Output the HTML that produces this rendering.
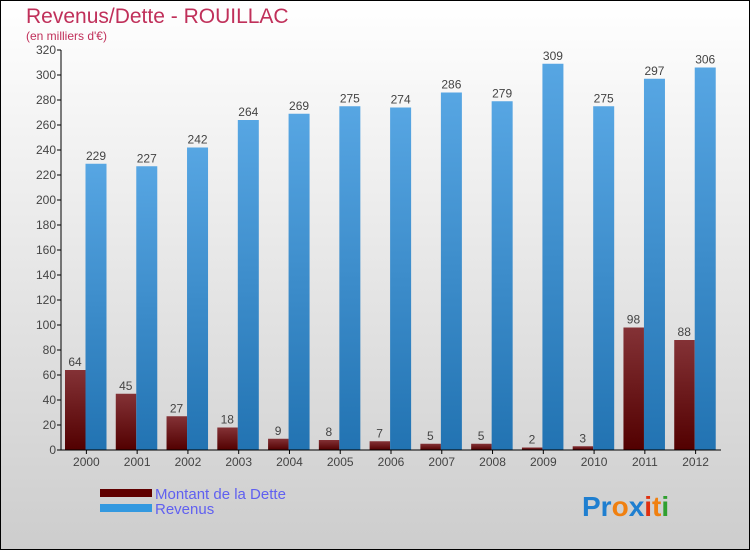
<!DOCTYPE html>
<html><head><meta charset="utf-8"><style>
body{margin:0}
#c{width:750px;height:550px;position:relative;overflow:hidden}
</style></head><body>
<div id="c">
<svg id="s" width="750" height="550" xmlns="http://www.w3.org/2000/svg" font-family="'Liberation Sans', sans-serif">
<defs>
<linearGradient id="bg" x1="0" y1="0" x2="0" y2="1"><stop offset="0" stop-color="#ffffff"/><stop offset="1" stop-color="#cdcdcd"/></linearGradient>
<linearGradient id="rg" x1="0" y1="0" x2="0" y2="1"><stop offset="0" stop-color="#843236"/><stop offset="1" stop-color="#520000"/></linearGradient>
<linearGradient id="bl" x1="0" y1="0" x2="0" y2="1"><stop offset="0" stop-color="#57a6e3"/><stop offset="1" stop-color="#2273b2"/></linearGradient>
</defs>
<rect x="0.5" y="0.5" width="749" height="549" fill="url(#bg)" stroke="#000"/>
<text x="26" y="23" font-size="21" fill="#c0305a">Revenus/Dette - ROUILLAC</text>
<text x="26" y="40" font-size="12" fill="#c0305a">(en milliers d'€)</text>
<g id="plot"></g>
<rect x="100" y="489" width="52" height="8" fill="#600000"/>
<rect x="100" y="504" width="52" height="8" fill="#3399e0"/>
<text x="155" y="499" font-size="15" fill="#6060f0">Montant de la Dette</text>
<text x="155" y="514" font-size="15" fill="#6060f0">Revenus</text>
<text x="582" y="516" font-size="28" font-weight="bold"><tspan fill="#1f7fd0">Pr</tspan><tspan fill="#f08010">o</tspan><tspan fill="#1f7fd0">x</tspan><tspan fill="#e03010">i</tspan><tspan fill="#f08010">t</tspan><tspan fill="#30a030">i</tspan></text>
</svg>
</div>
<script>
const years=["2000","2001","2002","2003","2004","2005","2006","2007","2008","2009","2010","2011","2012"];
const dette=[64,45,27,18,9,8,7,5,5,2,3,98,88];
const revenus=[229,227,242,264,269,275,274,286,279,309,275,297,306];
const yTicks=[0,20,40,60,80,100,120,140,160,180,200,220,240,260,280,300,320];
const NS="http://www.w3.org/2000/svg";
const x0=61,x1=721,y0=450,yTop=50,yMax=320;
const step=(x1-x0)/years.length;
const y=v=>y0-(v/yMax)*(y0-yTop);
const g=document.getElementById('plot');
function el(t,a){const e=document.createElementNS(NS,t);for(const k in a)e.setAttribute(k,a[k]);g.appendChild(e);return e;}
yTicks.forEach(t=>{
 const l=el('line',{x1:x0-4,x2:x0,y1:y(t),y2:y(t),stroke:'#000'});
 
 
 const tx=el('text',{x:x0-5,y:y(t)+4,'text-anchor':'end','font-size':12,fill:'#444'});
 tx.textContent=t;
 
 
});
years.forEach((yr,i)=>{
 const gx=x0+i*step;
 const r=el('rect',{x:gx+4,y:y(dette[i]),width:20.5,height:y0-y(dette[i]),fill:'url(#rg)'});
 
 
 const b=el('rect',{x:gx+24.5,y:y(revenus[i]),width:21,height:y0-y(revenus[i]),fill:'url(#bl)'});
 
 
 const t1=el('text',{x:gx+14,y:y(dette[i])-4,'text-anchor':'middle','font-size':12,fill:'#444'});
 t1.textContent=dette[i];
 
 
 const t2=el('text',{x:gx+35,y:y(revenus[i])-4,'text-anchor':'middle','font-size':12,fill:'#444'});
 t2.textContent=revenus[i];
 
 
 const xl=el('text',{x:gx+step/2,y:466,'text-anchor':'middle','font-size':12,fill:'#444'});
 xl.textContent=yr;
 
 
 const xt=el('line',{x1:gx+step/2,x2:gx+step/2,y1:y0,y2:y0+4,stroke:'#000'});
 
 
});
const ya=el('line',{x1:x0,x2:x0,y1:yTop,y2:y0,stroke:'#000'});


const xa=el('line',{x1:x0,x2:x1,y1:y0,y2:y0,stroke:'#000'});


</script>
</body></html>
